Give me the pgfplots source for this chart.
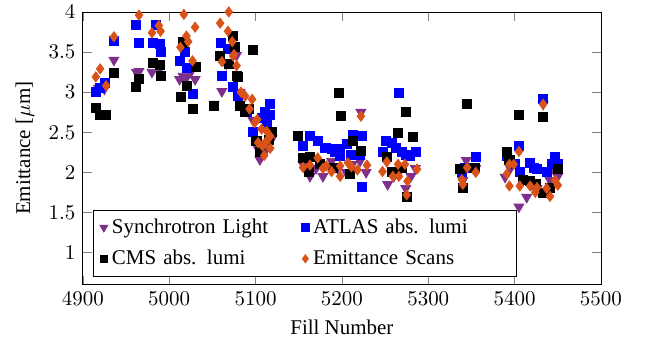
\documentclass[border=0pt]{standalone}
\usepackage{fontspec}
\setmainfont{Liberation Serif}
\usepackage{pgfplots}
\pgfplotsset{compat=1.18}
\definecolor{purp}{rgb}{0.494,0.184,0.556}
\definecolor{orng}{rgb}{0.85,0.325,0.098}
\begin{document}
\begin{tikzpicture}
\begin{axis}[
  scale only axis,
  width=247pt, height=130pt,
  xmin=4900, xmax=5500, ymin=0.6, ymax=4,
  xtick={4900,5000,...,5500},
  ytick={1,1.5,...,4},
  xticklabel style={/pgf/number format/1000 sep={}},
  yticklabel style={/pgf/number format/fixed},
  xlabel={Fill Number},
  ylabel={Emittance [$\mu$m]},
  legend columns=2,
  legend style={at={(0.02,0.03)}, anchor=south west, row sep=2.5pt, inner ysep=2pt,
    /tikz/every even column/.append style={column sep=3pt}},
  legend cell align=left,
  legend image post style={/tikz/every mark/.append style={scale=0.8}},
]
\addplot[only marks, mark=triangle*, mark size=2.7pt, mark options={rotate=180, draw=purp, fill=purp}] coordinates {
(4918,3.05) (4925,3.04) (4936,3.40) (4962,3.25) (4965,3.26) (4980,3.25) (4989,3.29) (4990,3.22)
(5012,3.16) (5016,3.20) (5020,3.18) (5025,3.25) (5030,3.16) (5052,2.85) (5061,3.01) (5066,3.35)
(5078,3.46) (5082,3.00) (5090,2.80) (5097,2.65) (5101,2.33) (5105,2.16) (5110,2.25) (5119,2.42)
(5113,2.30) (5155,2.10) (5163,1.95) (5170,2.05) (5178,1.95) (5188,2.14) (5195,2.05) (5205,2.00)
(5212,2.10) (5221,2.14) (5222,2.75) (5228,2.00) (5253,1.85) (5260,1.95) (5266,2.00) (5274,1.80)
(5280,1.95) (5285,2.05) (5340,1.90) (5344,2.15) (5355,2.05) (5389,1.94) (5395,2.05) (5405,1.57)
(5414,1.69) (5420,1.85) (5426,1.80) (5433,2.85) (5441,1.90) (5447,2.00) (5450,1.95)
};
\addlegendentry[text width=85.5pt, align=left]{Synchrotron Light}
\addplot[only marks, mark=square*, mark size=2.15pt, mark options={draw=blue, fill=blue}] coordinates {
(4915,3.00) (4920,3.05) (4925,3.12) (4936,3.64) (4961,3.84) (4965,3.61) (4981,3.61) (4985,3.84)
(4989,3.60) (4990,3.50) (5012,3.39) (5018,3.50) (5020,3.30) (5027,2.98) (5060,3.61) (5061,3.20)
(5068,3.54) (5074,3.06) (5080,2.95) (5090,2.75) (5097,2.50) (5107,2.68) (5111,2.75) (5113,2.60)
(5117,2.85) (5117,2.72) (5155,2.33) (5163,2.46) (5172,2.39) (5180,2.30) (5182,2.31) (5188,2.29)
(5192,2.25) (5198,2.29) (5198,2.20) (5206,2.35) (5211,2.22) (5213,2.47) (5221,2.22) (5223,2.45)
(5223,1.82) (5247,2.25) (5251,2.39) (5258,2.37) (5262,2.30) (5266,2.99) (5269,2.25) (5274,2.22)
(5279,2.20) (5286,2.26) (5339,2.00) (5343,2.05) (5355,2.19) (5391,2.20) (5400,2.10) (5405,2.33)
(5406,2.00) (5418,2.12) (5422,2.05) (5426,2.04) (5433,2.91) (5437,2.01) (5443,2.10) (5447,2.19)
(5450,2.10)
};
\addlegendentry[text width=92pt, align=left]{ATLAS abs. lumi}
\addplot[only marks, mark=square*, mark size=2.15pt, mark options={draw=black, fill=black}] coordinates {
(4915,2.80) (4920,2.71) (4927,2.72) (4936,3.24) (4961,3.06) (4965,3.16) (4981,3.36) (4989,3.34)
(4990,3.20) (5013,2.94) (5016,3.62) (5020,3.08) (5027,2.79) (5031,3.31) (5052,2.83) (5059,3.45)
(5069,3.35) (5074,3.70) (5076,3.56) (5078,3.20) (5080,3.19) (5082,2.83) (5088,2.75) (5092,2.79)
(5097,3.53) (5101,2.39) (5105,2.25) (5115,2.40) (5119,2.51) (5149,2.45) (5155,2.18) (5162,2.00)
(5163,2.19) (5175,2.10) (5190,2.05) (5197,2.99) (5199,2.70) (5209,1.98) (5213,2.39) (5222,2.27)
(5252,2.19) (5258,2.00) (5265,2.49) (5270,2.05) (5274,2.75) (5275,1.69) (5282,2.44) (5337,2.04)
(5340,1.81) (5345,2.85) (5354,2.06) (5391,2.25) (5394,2.16) (5405,2.71) (5410,1.90) (5418,1.89)
(5425,1.85) (5433,2.69) (5433,1.74) (5441,1.80) (5450,2.04)
};
\addlegendentry[text width=85.5pt, align=left]{CMS abs. lumi}
\addplot[only marks, mark=diamond*, mark size=2.4pt, mark options={draw=orng, fill=orng}] coordinates {
(4915,3.19) (4920,3.29) (4927,3.08) (4936,3.69) (4965,3.96) (4980,3.74) (4988,3.83) (4990,3.76)
(5013,3.56) (5017,3.97) (5020,3.70) (5022,3.63) (5027,3.39) (5030,3.81) (5059,3.86) (5061,3.38)
(5068,3.76) (5069,4.00) (5073,3.63) (5074,3.45) (5075,3.47) (5078,3.33) (5083,3.00) (5088,2.95)
(5093,2.79) (5096,2.91) (5099,2.62) (5102,2.66) (5103,2.37) (5107,2.54) (5108,2.33) (5110,2.21)
(5112,2.38) (5113,2.51) (5117,2.45) (5117,2.30) (5155,2.06) (5163,2.09) (5172,2.18) (5178,2.05)
(5182,2.08) (5188,2.01) (5198,1.95) (5198,2.08) (5207,2.12) (5211,2.07) (5218,2.03) (5222,2.70)
(5229,2.09) (5247,2.01) (5252,2.13) (5259,1.95) (5265,2.10) (5266,1.95) (5273,2.10) (5275,1.72)
(5276,1.89) (5287,2.04) (5339,1.91) (5340,1.85) (5345,2.06) (5355,2.00) (5391,1.98) (5394,2.10)
(5394,1.83) (5399,2.10) (5405,2.26) (5406,1.83) (5418,1.83) (5424,1.75) (5426,1.81) (5433,2.85)
(5437,1.80) (5441,1.70) (5447,1.90) (5450,1.84)
};
\addlegendentry[text width=92pt, align=left]{Emittance Scans}
\end{axis}
\pgfresetboundingbox
\path[use as bounding box] ([xshift=-39.5pt,yshift=-31pt]current axis.south west) rectangle ([xshift=21pt,yshift=5.7pt]current axis.north east);
\end{tikzpicture}
\end{document}
